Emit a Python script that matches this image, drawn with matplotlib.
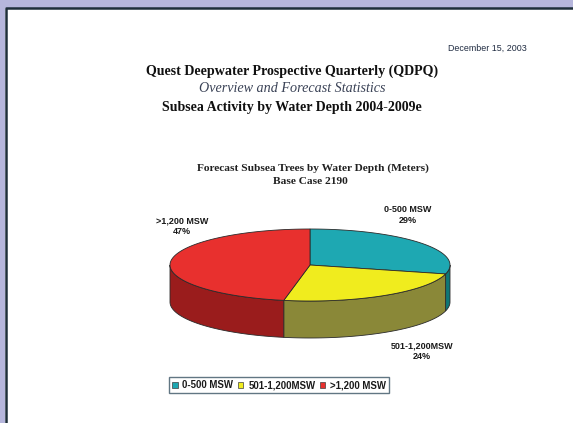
import numpy as np
import matplotlib
matplotlib.use("Agg")
import matplotlib.pyplot as plt
from matplotlib.patches import Polygon, Rectangle, Patch

# ---- data ----
categories = ["0-500 MSW", "501-1,200MSW", ">1,200 MSW"]
legend_labels = ["0-500 MSW", "501-1,200MSW", ">1,200 MSW"]
shares = [29, 24, 47]
label_text = ["0-500 MSW\n29%", "501-1,200MSW\n24%", ">1,200 MSW\n47%"]

top_colors = ["#1ea8b2", "#f0ec1e", "#e8302e"]
side_colors = ["#0f7676", "#8a8838", "#9a1c1c"]

W, H = 573, 423
fig = plt.figure(figsize=(W / 100, H / 100), dpi=100)
fig.patch.set_facecolor("#b6b6dc")
ax = fig.add_axes([0, 0, 1, 1])
ax.set_xlim(0, W)
ax.set_ylim(H, 0)
ax.axis("off")

# page
ax.add_patch(Rectangle((5, 8), W, H, facecolor="white", edgecolor="none", zorder=0))
ax.plot([5.5, 5.5, W], [H, 8.5, 8.5], color="#1e2e3a", lw=1.8, zorder=1, solid_capstyle="butt")

# header texts
ax.text(527, 48, "December 15, 2003", ha="right", va="center", fontsize=6.4,
        family="Liberation Sans", color="#1e2a40")
ax.text(292, 71, "Quest Deepwater Prospective Quarterly (QDPQ)", ha="center", va="center",
        fontsize=10.1, family="Liberation Serif", weight="bold", color="#101010")
ax.text(292, 88, "Overview and Forecast Statistics", ha="center", va="center",
        fontsize=10.2, family="Liberation Serif", style="italic", color="#3a4256")
ax.text(292, 108, "Subsea Activity by Water Depth 2004-2009e", ha="center", va="center",
        fontsize=10.0, family="Liberation Serif", weight="bold", color="#101010")

ax.text(313, 168, "Forecast Subsea Trees by Water Depth (Meters)", ha="center", va="center",
        fontsize=8.2, family="Liberation Serif", weight="bold", color="#202020")
ax.text(310, 181, "Base Case 2190", ha="center", va="center",
        fontsize=8.2, family="Liberation Serif", weight="bold", color="#202020")

# ---- 3D pie ----
cx, cy, a, b, depth = 310, 265, 140, 36, 37
total = float(sum(shares))
start = 90.0
bounds = []
for v in shares:
    end = start - 360.0 * v / total
    bounds.append((end, start))
    start = end

def pt(theta_deg, dy=0.0):
    t = np.deg2rad(theta_deg)
    return cx + a * np.cos(t), cy - b * np.sin(t) + dy

edge = dict(edgecolor="#2a2a2a", linewidth=0.6)

# side walls (front, visible part)
for (t1, t2), sc in zip(bounds, side_colors):
    for off in (0, -360, 360):
        lo, hi = t1 + off, t2 + off
        s_lo, s_hi = max(lo, -180), min(hi, 0)
        if s_hi > s_lo:
            th = np.linspace(s_lo, s_hi, 80)
            top = [pt(t) for t in th]
            bot = [pt(t, depth) for t in th[::-1]]
            ax.add_patch(Polygon(top + bot, closed=True, facecolor=sc, zorder=2, **edge))

# top faces
handles = []
for (t1, t2), tc, lab in zip(bounds, top_colors, legend_labels):
    th = np.linspace(t1, t2, 200)
    verts = [(cx, cy)] + [pt(t) for t in th]
    ax.add_patch(Polygon(verts, closed=True, facecolor=tc, zorder=3, **edge))
    handles.append(Patch(facecolor=tc, edgecolor="#404040", linewidth=0.5, label=lab))

# slice labels
label_pos = [(408, 215), (422, 351), (182, 226)]
for (x, y), txt in zip(label_pos, label_text):
    ax.text(x, y, txt, ha="center", va="center", fontsize=6.5, family="Liberation Sans",
            weight="bold", color="#1a1a1a", linespacing=1.2)

leg = ax.legend(handles=handles, ncol=3, loc="center", bbox_to_anchor=(279 / W, 1 - 385 / H),
                bbox_transform=fig.transFigure, frameon=True, fancybox=False,
                prop={"family": "Liberation Sans", "weight": "bold", "size": 6.9},
                handlelength=0.6, handleheight=0.6, handletextpad=0.5,
                columnspacing=0.45, borderpad=0.3, borderaxespad=0)
leg.get_frame().set_edgecolor("#3a5464")
leg.get_frame().set_linewidth(1.0)
for t in leg.get_texts():
    t.set_color("#1a1a1a")

fig.savefig("out.png", dpi=100, facecolor=fig.get_facecolor())
